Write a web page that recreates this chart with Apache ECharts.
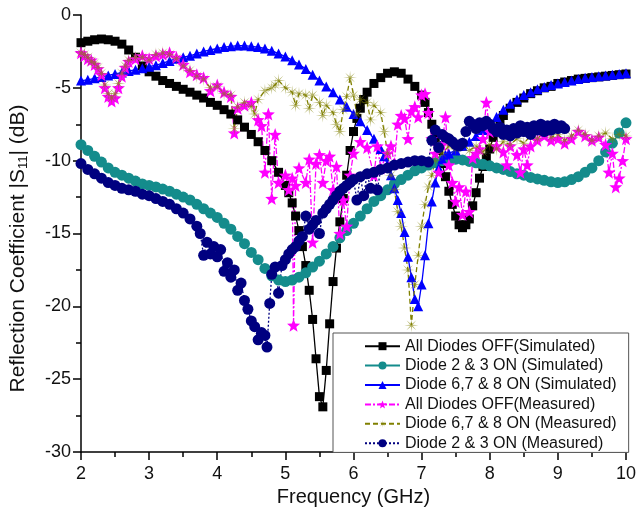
<!DOCTYPE html>
<html>
<head>
<meta charset="utf-8">
<script src="https://cdn.jsdelivr.net/npm/echarts@6/dist/echarts.min.js"></script>
<style>
  html, body { margin: 0; padding: 0; background: #fff; }
  #chart { width: 639px; height: 517px; }
</style>
</head>
<body>
<div id="chart"></div>
<script>
// values, [frequency GHz, |S11| dB]
const offSim = [
  [2.0,-1.9],[2.1,-1.8],[2.2,-1.7],[2.3,-1.65],[2.4,-1.7],[2.5,-1.8],[2.6,-2.0],[2.7,-2.4],[2.8,-2.9],[2.9,-3.5],
  [3.0,-3.9],[3.1,-4.2],[3.2,-4.5],[3.3,-4.7],[3.4,-4.9],[3.5,-5.1],[3.6,-5.3],[3.7,-5.5],[3.8,-5.7],[3.9,-6.0],
  [4.0,-6.2],[4.1,-6.5],[4.2,-6.8],[4.3,-7.2],[4.4,-7.7],[4.5,-8.2],[4.6,-8.7],[4.7,-9.3],[4.8,-10.0],[4.9,-10.8],
  [5.0,-11.7],[5.05,-12.2],[5.1,-12.9],[5.15,-13.8],[5.2,-14.8],[5.25,-15.9],[5.3,-17.2],[5.35,-18.9],[5.4,-20.9],
  [5.45,-23.6],[5.5,-26.2],[5.55,-26.9],[5.6,-24.4],[5.65,-21.2],[5.7,-18.3],[5.75,-16.0],[5.8,-14.2],[5.85,-12.6],
  [5.9,-11.0],[5.95,-9.3],[6.0,-8.0],[6.05,-7.1],[6.1,-6.4],[6.15,-5.8],[6.2,-5.3],[6.3,-4.7],[6.4,-4.3],[6.5,-4.0],
  [6.6,-3.9],[6.7,-4.0],[6.8,-4.4],[6.9,-4.9],[7.0,-5.5],[7.05,-6.0],[7.1,-6.7],[7.15,-7.5],[7.2,-8.4],[7.25,-9.3],
  [7.3,-10.2],[7.35,-11.1],[7.4,-12.1],[7.45,-13.0],[7.5,-13.8],[7.55,-14.4],[7.6,-14.6],[7.65,-14.4],[7.7,-14.0],
  [7.75,-13.1],[7.8,-12.2],[7.85,-11.2],[7.9,-10.4],[7.95,-9.8],[8.0,-9.2],[8.05,-8.4],[8.1,-7.8],[8.15,-7.3],[8.2,-6.9],
  [8.3,-6.4],[8.4,-6.0],[8.5,-5.7],[8.6,-5.4],[8.7,-5.2],[8.8,-5.0],[8.9,-4.9],[9.0,-4.7],[9.1,-4.6],[9.2,-4.5],
  [9.3,-4.4],[9.4,-4.35],[9.5,-4.3],[9.6,-4.25],[9.7,-4.2],[9.8,-4.15],[9.9,-4.1],[10.0,-4.05]
];
const d23Sim = [
  [2.0,-8.9],[2.1,-9.3],[2.2,-9.7],[2.3,-10.1],[2.4,-10.5],[2.5,-10.8],[2.6,-11.0],[2.7,-11.2],[2.8,-11.4],[2.9,-11.6],
  [3.0,-11.7],[3.1,-11.8],[3.2,-11.95],[3.3,-12.1],[3.4,-12.3],[3.5,-12.5],[3.6,-12.7],[3.7,-13.0],[3.8,-13.3],[3.9,-13.6],
  [4.0,-13.9],[4.1,-14.3],[4.2,-14.7],[4.3,-15.2],[4.4,-15.7],[4.5,-16.3],[4.6,-16.8],[4.7,-17.4],[4.8,-17.9],[4.9,-18.2],
  [5.0,-18.3],[5.1,-18.2],[5.2,-18.0],[5.3,-17.7],[5.4,-17.3],[5.5,-16.9],[5.6,-16.4],[5.7,-15.9],[5.8,-15.3],[5.9,-14.8],
  [6.0,-14.3],[6.1,-13.8],[6.2,-13.3],[6.3,-12.8],[6.4,-12.4],[6.5,-12.0],[6.6,-11.6],[6.7,-11.3],[6.8,-11.0],[6.9,-10.7],
  [7.0,-10.5],[7.1,-10.3],[7.2,-10.15],[7.3,-10.0],[7.4,-9.95],[7.5,-9.9],[7.6,-9.95],[7.7,-10.05],[7.8,-10.15],[7.9,-10.25],
  [8.0,-10.35],[8.1,-10.5],[8.2,-10.6],[8.3,-10.75],[8.4,-10.9],[8.5,-11.0],[8.6,-11.15],[8.7,-11.25],[8.8,-11.35],[8.9,-11.45],
  [9.0,-11.5],[9.1,-11.45],[9.2,-11.3],[9.3,-11.1],[9.4,-10.8],[9.5,-10.5],[9.6,-10.0],[9.7,-9.4],[9.8,-8.8],[9.9,-8.1],[10.0,-7.4]
];
const d678Sim = [
  [2.0,-4.5],[2.1,-4.45],[2.2,-4.35],[2.3,-4.25],[2.4,-4.15],[2.5,-4.05],[2.6,-3.95],[2.7,-3.85],[2.8,-3.75],[2.9,-3.65],
  [3.0,-3.55],[3.1,-3.45],[3.2,-3.3],[3.3,-3.15],[3.4,-3.0],[3.5,-2.9],[3.6,-2.8],[3.7,-2.65],[3.8,-2.5],[3.9,-2.4],
  [4.0,-2.3],[4.1,-2.2],[4.2,-2.15],[4.3,-2.1],[4.4,-2.1],[4.5,-2.15],[4.6,-2.2],[4.7,-2.3],[4.8,-2.45],[4.9,-2.65],
  [5.0,-2.85],[5.1,-3.1],[5.2,-3.4],[5.3,-3.7],[5.4,-4.1],[5.5,-4.5],[5.6,-4.9],[5.7,-5.3],[5.8,-5.8],[5.9,-6.3],
  [6.0,-6.8],[6.1,-7.3],[6.2,-7.9],[6.3,-8.5],[6.4,-9.2],[6.45,-9.7],[6.5,-10.3],[6.55,-11.0],[6.6,-11.9],[6.65,-12.7],
  [6.7,-13.6],[6.75,-14.9],[6.8,-16.6],[6.85,-18.0],[6.9,-19.5],[6.95,-20.0],[7.0,-18.5],[7.05,-16.5],[7.1,-14.3],
  [7.15,-12.8],[7.2,-11.5],[7.25,-10.5],[7.3,-9.9],[7.35,-9.6],[7.4,-9.5],[7.5,-9.3],[7.6,-9.0],[7.7,-8.7],[7.8,-8.3],
  [7.9,-7.9],[8.0,-7.5],[8.1,-7.0],[8.2,-6.5],[8.3,-6.1],[8.4,-5.8],[8.5,-5.5],[8.6,-5.3],[8.7,-5.1],[8.8,-4.95],
  [8.9,-4.8],[9.0,-4.7],[9.1,-4.6],[9.2,-4.5],[9.3,-4.4],[9.4,-4.3],[9.5,-4.25],[9.6,-4.2],[9.7,-4.15],[9.8,-4.1],
  [9.9,-4.05],[10.0,-4.0]
];
const offMeas = [
  [2.0,-2.6],[2.05,-2.8],[2.1,-3.0],[2.15,-3.1],[2.2,-3.4],[2.25,-3.7],[2.3,-4.1],[2.35,-5.0],[2.4,-5.6],[2.45,-5.9],
  [2.5,-5.7],[2.55,-5.0],[2.6,-4.2],[2.65,-3.6],[2.7,-3.2],[2.8,-3.0],[2.9,-2.8],[3.0,-3.0],[3.1,-2.8],[3.2,-2.7],
  [3.3,-2.6],[3.4,-2.9],[3.5,-3.4],[3.6,-3.9],[3.7,-4.1],[3.8,-4.3],[3.9,-5.2],[4.0,-4.8],[4.1,-5.3],[4.2,-5.6],
  [4.25,-8.1],[4.3,-6.4],[4.4,-6.2],[4.5,-6.0],[4.6,-7.2],[4.65,-7.6],[4.7,-10.8],[4.75,-6.8],[4.8,-12.6],[4.85,-8.2],
  [4.9,-11.5],[5.0,-11.0],[5.05,-12.0],[5.1,-11.2],[5.12,-21.3],[5.15,-11.7],[5.2,-10.5],[5.3,-11.5],[5.35,-9.9],
  [5.4,-15.6],[5.45,-10.2],[5.5,-9.6],[5.55,-11.5],[5.6,-10.0],[5.65,-9.7],[5.7,-12.0],[5.75,-10.4],[5.8,-15.0],
  [5.85,-12.7],[5.9,-14.5],[5.95,-11.0],[6.0,-9.5],[6.1,-8.7],[6.2,-9.1],[6.3,-11.0],[6.35,-9.0],[6.4,-10.5],[6.5,-9.5],
  [6.55,-9.0],[6.6,-10.2],[6.65,-7.5],[6.7,-6.9],[6.75,-7.1],[6.8,-8.5],[6.85,-6.6],[6.9,-6.3],[6.95,-7.0],[7.0,-5.5],
  [7.05,-5.4],[7.1,-6.7],[7.15,-8.5],[7.2,-9.5],[7.25,-10.8],[7.3,-8.9],[7.35,-7.0],[7.4,-10.3],[7.45,-11.5],[7.5,-12.8],
  [7.55,-11.8],[7.6,-13.7],[7.65,-12.1],[7.7,-13.5],[7.75,-9.8],[7.8,-9.5],[7.85,-9.2],[7.9,-8.5],[7.95,-6.0],[8.0,-8.0],
  [8.1,-9.0],[8.2,-9.4],[8.25,-10.3],[8.3,-9.0],[8.4,-9.6],[8.45,-10.8],[8.5,-9.2],[8.55,-10.3],[8.6,-9.0],[8.7,-8.6],
  [8.8,-8.3],[8.9,-8.6],[9.0,-8.5],[9.1,-8.8],[9.2,-8.5],[9.3,-8.0],[9.4,-8.3],[9.5,-8.6],[9.6,-8.4],[9.7,-8.9],
  [9.75,-10.8],[9.8,-9.5],[9.85,-11.8],[9.9,-11.2],[9.95,-10.0],[10.0,-8.5]
];
const d678Meas = [
  [2.0,-2.6],[2.05,-2.7],[2.1,-2.9],[2.15,-3.2],[2.2,-3.3],[2.25,-3.6],[2.3,-4.0],[2.35,-4.8],[2.4,-5.4],[2.45,-5.7],
  [2.5,-5.4],[2.55,-4.7],[2.6,-4.0],[2.65,-3.5],[2.7,-3.1],[2.8,-2.9],[2.9,-2.9],[3.0,-3.1],[3.1,-2.7],[3.2,-2.6],
  [3.3,-2.7],[3.4,-3.0],[3.5,-3.5],[3.6,-3.8],[3.7,-4.2],[3.8,-4.4],[3.9,-5.0],[4.0,-4.9],[4.1,-5.4],[4.2,-5.5],
  [4.25,-7.8],[4.3,-6.3],[4.4,-6.0],[4.5,-6.3],[4.55,-6.8],[4.6,-5.8],[4.7,-5.2],[4.8,-5.0],[4.85,-4.8],[4.9,-4.5],
  [5.0,-5.0],[5.1,-5.3],[5.15,-6.2],[5.2,-5.4],[5.3,-5.5],[5.35,-6.4],[5.4,-5.5],[5.5,-6.0],[5.55,-6.9],[5.6,-6.2],
  [5.7,-6.7],[5.75,-7.5],[5.8,-8.0],[5.85,-6.5],[5.9,-5.6],[5.95,-4.3],[6.0,-5.5],[6.05,-6.8],[6.1,-5.8],[6.2,-6.0],
  [6.25,-7.2],[6.3,-6.2],[6.4,-6.7],[6.45,-8.0],[6.5,-9.5],[6.55,-11.0],[6.6,-12.0],[6.65,-13.5],[6.7,-14.5],[6.75,-16.0],
  [6.8,-17.5],[6.85,-21.3],[6.9,-18.5],[6.95,-16.5],[7.0,-14.5],[7.05,-13.0],[7.1,-11.8],[7.15,-11.0],[7.2,-10.0],
  [7.3,-9.5],[7.4,-9.0],[7.5,-9.2],[7.6,-8.8],[7.7,-9.3],[7.8,-9.0],[7.9,-9.4],[8.0,-8.9],[8.1,-9.2],[8.2,-8.7],
  [8.3,-8.9],[8.4,-8.5],[8.5,-8.8],[8.6,-8.3],[8.7,-8.5],[8.8,-8.0],[8.9,-8.4],[9.0,-8.2],[9.1,-8.6],[9.2,-8.3],
  [9.3,-7.9],[9.4,-8.2],[9.5,-8.6],[9.6,-8.3],[9.7,-8.1],[9.8,-8.5],[9.9,-8.2],[10.0,-8.3]
];
const d23Meas = [
  [2.0,-10.2],[2.1,-10.6],[2.2,-10.9],[2.3,-11.2],[2.4,-11.5],[2.5,-11.7],[2.6,-11.9],[2.7,-12.0],[2.8,-12.1],[2.9,-12.3],
  [3.0,-12.4],[3.1,-12.6],[3.2,-12.8],[3.3,-13.0],[3.4,-13.3],[3.5,-13.6],[3.6,-14.0],[3.7,-14.5],[3.75,-15.0],[3.8,-16.5],
  [3.85,-15.6],[3.9,-16.4],[3.95,-15.9],[4.0,-16.6],[4.05,-16.1],[4.1,-17.6],[4.15,-17.0],[4.2,-18.0],[4.25,-17.5],
  [4.3,-18.9],[4.35,-18.4],[4.4,-19.6],[4.45,-20.2],[4.5,-21.0],[4.55,-21.4],[4.6,-22.3],[4.65,-21.8],[4.7,-22.0],
  [4.73,-22.8],[4.77,-19.8],[4.8,-17.8],[4.85,-17.3],[4.9,-19.1],[4.95,-17.2],[5.0,-16.8],[5.05,-16.4],[5.1,-16.1],
  [5.15,-15.9],[5.2,-15.5],[5.25,-15.2],[5.3,-13.8],[5.35,-14.7],[5.4,-14.4],[5.45,-14.1],[5.5,-15.0],[5.55,-13.6],
  [5.6,-13.3],[5.65,-13.0],[5.7,-12.7],[5.75,-12.4],[5.8,-12.1],[5.85,-11.9],[5.9,-11.7],[5.95,-11.5],[6.0,-11.3],
  [6.05,-12.7],[6.1,-11.1],[6.15,-12.4],[6.2,-10.9],[6.25,-11.9],[6.3,-10.8],[6.35,-12.0],[6.4,-10.6],[6.5,-10.5],
  [6.6,-10.3],[6.7,-10.2],[6.8,-10.1],[6.9,-10.0],[7.0,-10.0],[7.1,-10.1],[7.15,-8.6],[7.2,-7.9],[7.25,-9.1],[7.3,-8.2],
  [7.35,-8.4],[7.4,-8.5],[7.45,-8.7],[7.5,-8.9],[7.55,-9.0],[7.6,-8.8],[7.65,-8.0],[7.7,-7.3],[7.75,-7.5],[7.8,-7.8],
  [7.85,-7.4],[7.9,-7.6],[7.95,-7.3],[8.0,-7.5],[8.05,-7.8],[8.1,-8.0],[8.15,-7.7],[8.2,-8.2],[8.25,-7.9],[8.3,-8.3],
  [8.35,-7.8],[8.4,-8.1],[8.45,-7.6],[8.5,-8.0],[8.55,-7.7],[8.6,-8.2],[8.65,-7.6],[8.7,-7.9],[8.75,-7.5],[8.8,-8.0],
  [8.85,-7.6],[8.9,-7.9],[8.95,-7.5],[9.0,-7.8],[9.05,-7.6],[9.1,-7.8]
];

const legendNames = [
  'All Diodes OFF(Simulated)',
  'Diode 2 & 3 ON (Simulated)',
  'Diode 6,7 & 8 ON (Simulated)',
  'All Diodes OFF(Measured)',
  'Diode 6,7 & 8 ON (Measured)',
  'Diode 2 & 3 ON (Measured)'
];

// star shaped marker as an svg path
function starPath(n, inner) {
  let d = '';
  for (let i = 0; i < 2 * n; i++) {
    const r = i % 2 ? inner : 1;
    const a = -Math.PI / 2 + i * Math.PI / n;
    d += (i ? 'L' : 'M') + (50 + 50 * r * Math.cos(a)).toFixed(2) + ' ' + (50 + 50 * r * Math.sin(a)).toFixed(2);
  }
  return 'path://' + d + 'Z';
}

const font = '"Liberation Sans", Arial, sans-serif';

const chart = echarts.init(document.getElementById('chart'));

const series = [
  { name: legendNames[0], data: offSim, symbol: 'rect', symbolSize: 9, color: '#000000',
    lineStyle: { width: 1.3, type: 'solid' } },
  { name: legendNames[1], data: d23Sim, symbol: 'circle', symbolSize: 11, color: '#148c8c',
    lineStyle: { width: 1.3, type: 'solid' } },
  { name: legendNames[2], data: d678Sim, symbol: 'triangle', symbolSize: 10, color: '#0000ff',
    lineStyle: { width: 1.3, type: 'solid' } },
  { name: legendNames[3], data: offMeas, symbol: starPath(5, 0.42), symbolSize: 13, color: '#ff00ff',
    lineStyle: { width: 1.3, type: [6, 2, 2, 2] } },
  { name: legendNames[4], data: d678Meas, symbol: starPath(8, 0.18), symbolSize: 14, color: '#808000',
    itemStyle: { opacity: 0.62 }, lineStyle: { width: 1.3, type: [5, 3] } },
  { name: legendNames[5], data: d23Meas, symbol: 'circle', symbolSize: 11, color: '#000080',
    lineStyle: { width: 1.3, type: [2, 2] } }
].map(s => Object.assign({
  type: 'line',
  showSymbol: true,
  showAllSymbol: true,
  z: 2
}, s, { itemStyle: Object.assign({ color: s.color }, s.itemStyle || {}), lineStyle: Object.assign({ color: s.color }, s.lineStyle) }));

chart.setOption({
  animation: false,
  backgroundColor: '#ffffff',
  textStyle: { fontFamily: font },
  grid: { left: 78, right: 12, top: 15, bottom: 65 },
  legend: {
    orient: 'vertical',
    left: 333,
    top: 333,
    backgroundColor: '#ffffff',
    borderColor: '#555555',
    borderWidth: 1,
    borderRadius: 0,
    padding: [5, 12, 1, 31],
    itemWidth: 35,
    itemHeight: 10,
    itemGap: 3,
    data: legendNames,
    textStyle: { fontFamily: font, fontSize: 16, color: '#111', lineHeight: 16.4 }
  },
  xAxis: {
    type: 'value',
    min: 2,
    max: 10,
    interval: 1,
    name: 'Frequency (GHz)',
    nameLocation: 'middle',
    nameGap: 35,
    nameTextStyle: { fontFamily: font, fontSize: 20, color: '#111' },
    axisLine: { onZero: false, lineStyle: { color: '#000', width: 1.5 } },
    axisTick: { inside: false, length: 8, lineStyle: { color: '#000', width: 1.5 } },
    minorTick: { show: true, splitNumber: 2, length: 5, lineStyle: { color: '#000', width: 1.5 } },
    axisLabel: { margin: 13, fontFamily: font, fontSize: 18, color: '#111' },
    splitLine: { show: false }
  },
  yAxis: {
    type: 'value',
    min: -30,
    max: 0,
    interval: 5,
    name: 'Reflection Coefficient |S{sub|11}| (dB)',
    nameLocation: 'middle',
    nameGap: 51,
    nameTextStyle: {
      fontFamily: font, fontSize: 21, color: '#111',
      padding: [0, 30, 0, 0],
      rich: { sub: { fontFamily: font, fontSize: 13, color: '#111', verticalAlign: 'bottom', padding: [10, 0, 0, 0] } }
    },
    axisLine: { onZero: false, lineStyle: { color: '#000', width: 1.5 } },
    axisTick: { inside: false, length: 8, lineStyle: { color: '#000', width: 1.5 } },
    minorTick: { show: true, splitNumber: 2, length: 5, lineStyle: { color: '#000', width: 1.5 } },
    axisLabel: { margin: 10, fontFamily: font, fontSize: 18, color: '#111' },
    splitLine: { show: false }
  },
  series: series
});
</script>
</body>
</html>
